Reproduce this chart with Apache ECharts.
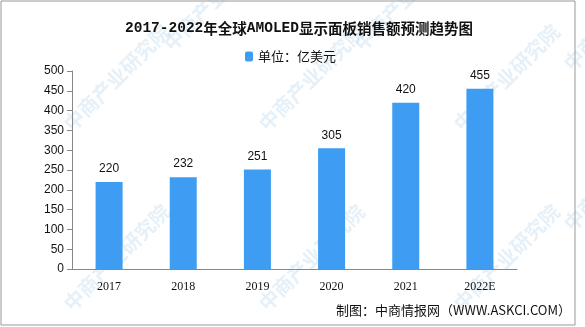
<!DOCTYPE html>
<html>
<head>
<meta charset="utf-8">
<script src="https://cdn.jsdelivr.net/npm/echarts@6/dist/echarts.min.js"></script>
<style>
  html, body { margin: 0; padding: 0; background: #fff; }
  #chart { width: 585px; height: 327px; }
</style>
</head>
<body>
<div id="chart"></div>
<script>
// Global AMOLED panel sales, 2017-2022E (unit: 100M USD)
var years = ['2017', '2018', '2019', '2020', '2021', '2022E'];
var sales = [220, 232, 251, 305, 420, 455];
var yTicks = [0, 50, 100, 150, 200, 250, 300, 350, 400, 450, 500];

var chart = echarts.init(document.getElementById('chart'));

// faint diagonal watermark text
var marks = [];
var markPos = [[60, 120], [60, 300], [255, 120], [255, 300], [450, 120], [450, 300], [560, 60], [560, 220], [160, 40], [350, 40]];
markPos.forEach(function (p) {
  marks.push({
    type: 'text', x: p[0], y: p[1], rotation: Math.PI / 4, silent: true, z: 0,
    style: { text: '中商产业研究院', fill: 'rgba(170,205,232,0.3)', font: 'bold 20px "Noto Sans CJK SC"' }
  });
});
marks.push({
  type: 'rect', shape: { x: 1, y: 1, width: 574, height: 324 }, silent: true, z: 0,
  style: { fill: 'none', stroke: '#999', lineWidth: 1 }
});

chart.setOption({
  animation: false,
  title: {
    text: '{l|2017-2022}{c|年全球}{l|AMOLED}{c|显示面板销售额预测趋势图}',
    left: 120, top: 12,
    textStyle: {
      rich: {
        l: { fontFamily: '"Liberation Mono", monospace', fontWeight: 'bold', fontSize: 14.5, lineHeight: 22, verticalAlign: 'middle', color: '#111' },
        c: { fontFamily: '"Noto Sans CJK SC"', fontWeight: 'bold', fontSize: 14.5, lineHeight: 22, verticalAlign: 'middle', color: '#111' }
      }
    }
  },
  legend: {
    top: 45, left: 240, itemWidth: 8, itemHeight: 10, itemGap: 5,
    data: ['单位：亿美元'],
    textStyle: { fontFamily: '"Noto Sans CJK SC"', fontSize: 13, color: '#111' }
  },
  grid: { left: 72, right: 68, top: 71, bottom: 58 },
  xAxis: {
    type: 'category', data: years,
    axisLine: { lineStyle: { color: '#888' } },
    axisTick: { alignWithLabel: false, length: 5, lineStyle: { color: '#888' } },
    axisLabel: { color: '#111', fontSize: 12, margin: 12, fontFamily: '"Liberation Serif", serif' }
  },
  yAxis: {
    type: 'value', min: yTicks[0], max: yTicks[yTicks.length - 1], interval: yTicks[1] - yTicks[0],
    axisLine: { show: true, lineStyle: { color: '#888' } },
    axisTick: { show: true, length: 5, lineStyle: { color: '#888' } },
    splitLine: { show: false },
    axisLabel: { color: '#111', fontSize: 12, margin: 8, fontFamily: '"Liberation Sans", Arial' }
  },
  series: [{
    name: '单位：亿美元', type: 'bar', data: sales, barWidth: 27,
    itemStyle: { color: '#3E9DF3' },
    label: { show: true, position: 'top', distance: 7, color: '#111', fontSize: 12, fontFamily: '"Liberation Sans", Arial' }
  }],
  graphic: marks.concat([{
    type: 'text', right: 14, top: 304,
    style: { text: '制图：中商情报网（WWW.ASKCI.COM）', fill: '#111', font: '13px "Noto Sans CJK SC"' }
  }])
});
</script>
</body>
</html>
